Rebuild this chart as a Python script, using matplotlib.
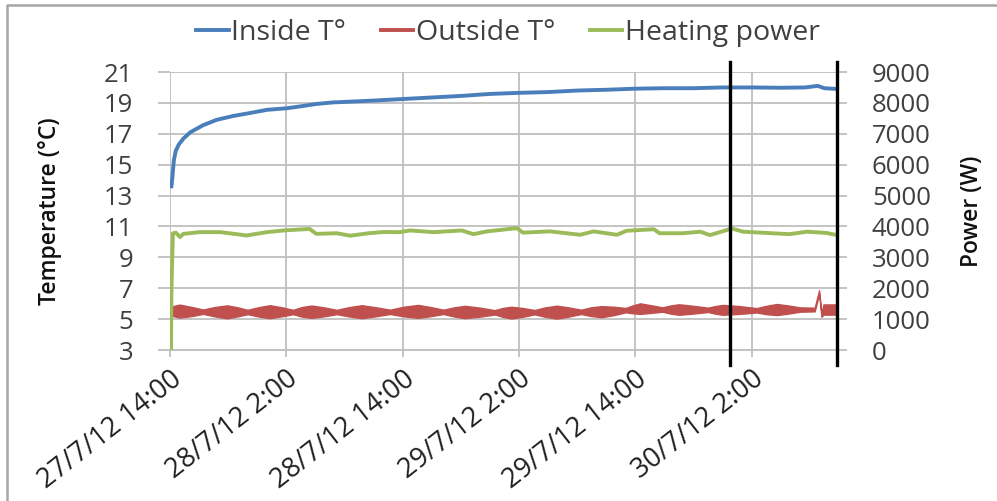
import matplotlib.pyplot as plt
import matplotlib.lines as mlines

plt.rcParams['font.family'] = ['Open Sans', 'DejaVu Sans']

# time axis in hours counted from 27/7/12 14:00
inside_h = [0.15, 0.25, 0.4, 0.6, 0.9, 1.4, 2.1, 3.4, 4.8, 6.5, 8.3, 10.0, 12.0,
            13.4, 15.1, 16.8, 18.6, 21.0, 24.0, 27.0, 30.0, 33.0, 36.0, 39.0,
            42.0, 45.0, 48.0, 51.0, 54.0, 57.0, 60.0, 63.0, 65.5, 66.8, 67.5, 68.8]
inside_t = [13.6, 14.2, 15.3, 15.9, 16.3, 16.7, 17.1, 17.55, 17.9, 18.15, 18.35,
            18.55, 18.65, 18.77, 18.93, 19.03, 19.08, 19.15, 19.25, 19.35, 19.45,
            19.58, 19.65, 19.7, 19.8, 19.85, 19.92, 19.95, 19.95, 20.0, 20.0,
            19.98, 20.0, 20.1, 19.95, 19.9]

# outside temperature oscillates quickly: kept as its upper and lower envelope
outside_h = [0.15, 1.0, 2.3, 3.4, 4.6, 5.9, 7.0, 8.0, 9.2, 10.3, 11.5, 12.7,
             13.6, 14.6, 15.9, 17.2, 18.5, 19.8, 21.2, 22.7, 24.1, 25.6, 26.9,
             28.2, 29.3, 30.4, 32.0, 33.5, 34.3, 35.2, 36.4, 37.6, 38.7, 39.9,
             41.1, 42.4, 43.4, 44.5, 45.8, 47.0, 47.7, 48.5, 49.6, 50.8, 51.6,
             52.5, 54.0, 55.5, 56.2, 57.0, 58.8, 60.5, 61.5, 62.6, 63.8, 65.0,
             66.5, 66.95, 67.2, 67.4, 68.8]
outside_hi = [5.82, 5.94, 5.78, 5.62, 5.78, 5.89, 5.76, 5.60, 5.78, 5.90, 5.77,
              5.60, 5.78, 5.88, 5.76, 5.60, 5.78, 5.90, 5.77, 5.61, 5.80, 5.92,
              5.78, 5.61, 5.76, 5.86, 5.74, 5.58, 5.72, 5.80, 5.72, 5.59, 5.76,
              5.87, 5.76, 5.61, 5.76, 5.84, 5.80, 5.72, 5.88, 6.02, 5.90, 5.76,
              5.88, 5.96, 5.86, 5.74, 5.84, 5.92, 5.84, 5.71, 5.86, 5.98, 5.88,
              5.76, 5.74, 6.87, 5.35, 5.95, 5.95]
outside_lo = [5.22, 5.10, 5.20, 5.34, 5.18, 5.05, 5.18, 5.32, 5.16, 5.06, 5.18,
              5.32, 5.16, 5.08, 5.18, 5.32, 5.17, 5.06, 5.18, 5.33, 5.18, 5.08,
              5.19, 5.33, 5.17, 5.06, 5.16, 5.30, 5.15, 5.04, 5.15, 5.31, 5.15,
              5.03, 5.16, 5.33, 5.20, 5.12, 5.26, 5.44, 5.38, 5.34, 5.40, 5.48,
              5.36, 5.28, 5.36, 5.46, 5.36, 5.28, 5.34, 5.43, 5.32, 5.26, 5.36,
              5.48, 5.50, 6.63, 5.15, 5.29, 5.29]

power_h = [0.1, 0.15, 0.3, 0.6, 1.03, 1.38, 3.1, 5.2, 7.9, 10.0, 11.7, 14.4, 15.1,
           17.2, 18.6, 20.5, 22.0, 23.7, 24.75, 27.2, 30.1, 31.3, 32.7, 35.8,
           36.4, 39.2, 42.3, 43.7, 46.1, 47.1, 49.9, 50.5, 52.9, 54.7, 55.7,
           57.4, 57.9, 59.1, 61.5, 63.9, 65.7, 67.7, 68.8]
power_w = [0, 2000, 3780, 3800, 3655, 3760, 3816, 3816, 3708, 3816, 3870, 3920,
           3760, 3780, 3700, 3780, 3820, 3815, 3870, 3815, 3870, 3750, 3840,
           3945, 3800, 3840, 3730, 3840, 3730, 3860, 3910, 3780, 3780, 3830,
           3720, 3880, 3938, 3830, 3790, 3750, 3830, 3790, 3720]

tick_hours = [0, 12, 24, 36, 48, 60]
tick_labels = ['27/7/12 14:00', '28/7/12 2:00', '28/7/12 14:00',
               '29/7/12 2:00', '29/7/12 14:00', '30/7/12 2:00']
window = [57.8, 68.8]

blue = '#4a7ebb'
red = '#c0504d'
green = '#9bbb59'
grid = '#bfbfbf'
text = '#404040'

fig = plt.figure(figsize=(9.97, 5.01), dpi=100)
ax = fig.add_axes([170 / 997, 1 - 350 / 501, 667 / 997, 278 / 501])
ax2 = ax.twinx()

ax.plot(inside_h, inside_t, color=blue, lw=2.8, zorder=3)
ax.fill_between(outside_h, outside_lo, outside_hi, color=red, lw=1.0,
                edgecolor=red, zorder=2)
ax2.plot(power_h, power_w, color=green, lw=2.8, zorder=3)

ax.set_xlim(0, 68.8)
ax.set_ylim(3, 21)
ax2.set_ylim(0, 9000)
ax.set_yticks(range(3, 22, 2))
ax2.set_yticks(range(0, 9001, 1000))
ax.set_xticks(tick_hours)
ax.set_xticklabels(tick_labels, rotation=38, ha='right', va='top',
                   rotation_mode='anchor')

ax.grid(True, color=grid, lw=1.3)
ax.set_axisbelow(True)
for a in (ax, ax2):
    for s in a.spines.values():
        s.set_visible(False)
ax.spines['bottom'].set_visible(True)
ax.spines['bottom'].set_color(grid)
ax.spines['bottom'].set_linewidth(1.3)

ax.tick_params(axis='y', length=8.6, width=1.3, color=grid, pad=18,
               labelsize=18.5, labelcolor=text)
ax.tick_params(axis='x', length=5, width=1.3, color=grid, pad=6,
               labelsize=19.5, labelcolor='#202020')
ax2.tick_params(axis='y', length=7.2, width=1.3, color=grid, pad=18,
                labelsize=18.5, labelcolor=text)

ax.set_ylabel('Temperature (°C)', fontsize=16.5, fontweight='semibold',
              color='#101010')
ax.yaxis.set_label_coords(-0.162, 0.5)
ax2.set_ylabel('Power (W)', fontsize=16.5, fontweight='semibold', color='#101010')
ax2.yaxis.set_label_coords(1.185, 0.5)

for x in window:
    ax2.axvline(x, ymin=-0.054, ymax=1.036, color='black', lw=2.4,
                clip_on=False, zorder=5)

handles = [mlines.Line2D([], [], color=blue, lw=2.8),
           mlines.Line2D([], [], color=red, lw=2.8),
           mlines.Line2D([], [], color=green, lw=2.8)]
fig.legend(handles, ['Inside T°', 'Outside T°', 'Heating power'],
           loc='center', bbox_to_anchor=(508 / 997, 1 - 33 / 501), ncol=3,
           frameon=False, fontsize=20.5, handlelength=1.15, handletextpad=0.1,
           columnspacing=1.2, labelcolor=text)

# outer chart border
fig.add_artist(mlines.Line2D([7 / 997, 7 / 997, 1.0], [0.0, 1 - 5 / 501, 1 - 5 / 501],
                             transform=fig.transFigure, color='#a6a6a6', lw=1.8))

fig.savefig('out.png', dpi=100)
